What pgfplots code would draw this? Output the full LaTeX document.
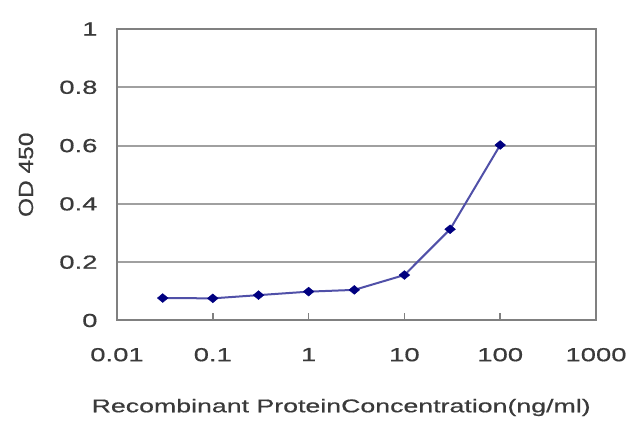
\documentclass[border=0pt]{standalone}
\usepackage{pgfplots}
\pgfplotsset{compat=1.18}
\usepackage{fontspec}
\setmainfont{Liberation Sans}[FakeStretch=1.45, FakeBold=0.6]
\newfontfamily\labfont{Liberation Sans}[FakeStretch=1.2, FakeBold=0.6]
\definecolor{txt}{HTML}{3A3A3A}
\definecolor{gridc}{HTML}{A0A0A0}
\definecolor{linec}{HTML}{5050A8}
\definecolor{markc}{HTML}{000080}
\begin{document}
\begin{tikzpicture}
\useasboundingbox (0,0) rectangle (640bp,427bp);
\begin{axis}[
  at={(117bp,106.5bp)}, anchor=south west,
  scale only axis, width=479bp, height=291.5bp,
  xmode=log, xmin=0.01, xmax=1000,
  ymin=0, ymax=1,
  xtick={0.01,0.1,1,10,100,1000},
  xticklabels={0.01,0.1,1,10,100,1000},
  ytick={0,0.2,0.4,0.6,0.8,1},
  yticklabels={0,0.2,0.4,0.6,0.8,1},
  xminorticks=false, yminorticks=false,
  tick pos=left,
  ymajorgrids, major grid style={gridc, line width=2bp},
  axis line style={gridc!80!black, line width=2bp},
  tick align=inside, major tick length=7bp,
  xtick style={gridc!80!black, line width=1.5bp},
  ytick style={draw=none},
  tick label style={font=\fontsize{19}{19}\selectfont, text=txt},
  xticklabel style={yshift=-24bp},
  yticklabel style={xshift=-16bp},
  xlabel={Recombinant ProteinConcentration(ng/ml)},
  xlabel style={font=\fontsize{18.5}{19}\selectfont, text=txt, at={(axis description cs:0.468,0)}, anchor=center, yshift=-87bp},
  ylabel={OD 450},
  ylabel style={font=\labfont\fontsize{20.5}{21}\selectfont, text=txt, at={(axis description cs:-0.19,0.5)}, anchor=center},
  clip=false,
]
\addplot[color=linec, line width=2bp, mark=diamond*, mark size=4.4bp, mark options={xscale=1.6, fill=markc, draw=markc, line width=0.5bp}]
coordinates {
(0.03,0.077)
(0.1,0.076)
(0.3,0.087)
(1,0.099)
(3,0.105)
(10,0.156)
(30,0.313)
(100,0.602)
};
\end{axis}
\end{tikzpicture}
\end{document}
